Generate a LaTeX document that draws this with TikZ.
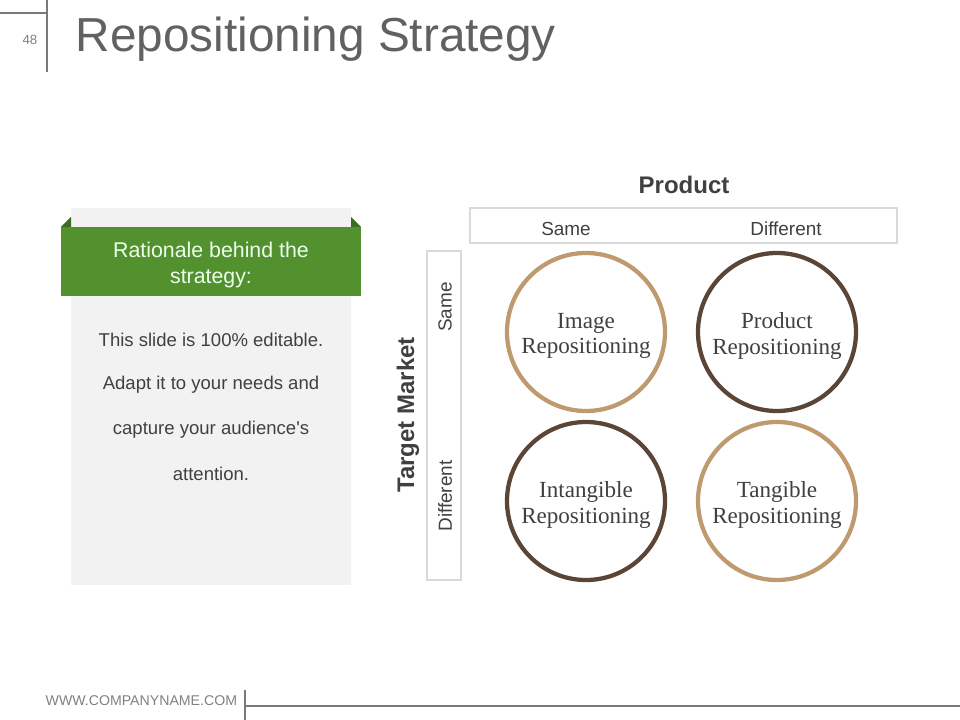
\documentclass[tikz,border=0pt]{standalone}
\usepackage{fontspec}
\setmainfont{Liberation Sans}
\newfontfamily\serifcirc{Liberation Serif}
\begin{document}
\begin{tikzpicture}[x=0.75pt,y=-0.75pt,
  rule/.style={draw=gray!95!black,line width=1.5pt},
  tanring/.style={circle,draw=ringtan,line width=3.2pt,minimum size=158pt*0.75,inner sep=0pt,align=center,font=\serifcirc\fontsize{17.3}{19}\selectfont,text=txtdark},
  brownring/.style={tanring,draw=ringbrown},
  ringtext/.style={align=center,font=\serifcirc\fontsize{17.3}{19}\selectfont,text=txtdark,yshift=-3pt},
  axbox/.style={draw=boxgray,line width=1.3pt},
  axlabel/.style={font=\fontsize{14.2}{16}\selectfont,text=txtdark},
  bodytxt/.style={font=\fontsize{13.9}{16}\selectfont,text=txtdark}]
\definecolor{ringtan}{HTML}{BF9A6E}
\definecolor{ringbrown}{HTML}{5A4537}
\definecolor{txtdark}{HTML}{404040}
\definecolor{boxgray}{HTML}{D9D9D9}
\definecolor{panelgray}{HTML}{F2F2F2}
\definecolor{green1}{HTML}{53912F}
\definecolor{green2}{HTML}{3C6B22}
\useasboundingbox (0,0) rectangle (960,720);
% header
\draw[rule] (0,13) -- (47,13);
\draw[rule] (47,0) -- (47,72);
\node[text=gray,font=\fontsize{10}{12}\selectfont] (pg) at (30,40) {48};
\node[anchor=west,text=black!62,font=\fontsize{35.8}{42}\selectfont] (title) at (71,39) {Repositioning Strategy};
% left panel
\fill[panelgray] (71,208) rectangle (351,585);
\fill[green2] (61,227) -- (71,217) -- (71,227) -- cycle;
\fill[green2] (361,227) -- (351,217) -- (351,227) -- cycle;
\fill[green1] (61,227) rectangle (361,296);
\node[align=center,text=white!92!green,font=\fontsize{16}{18.8}\selectfont] (rat) at (211,265) {Rationale behind the\\strategy:};
\node[bodytxt] (b1) at (211,340) {This slide is 100\% editable.};
\node[bodytxt] (b2) at (211,385) {Adapt it to your needs and};
\node[bodytxt] (b3) at (211,430) {capture your audience\textquotesingle s};
\node[bodytxt] (b4) at (211,474) {attention.};
% axes
\node[font=\bfseries\fontsize{18}{21}\selectfont,text=txtdark] (prod) at (684,185) {Product};
\draw[axbox] (470,208) rectangle (897,243);
\node[axlabel] (ps) at (566,229) {Same};
\node[axlabel] (pd) at (786,229) {Different};
\draw[axbox] (427,251) rectangle (461,580);
\node[axlabel,rotate=90] (ts) at (445,307) {Same};
\node[axlabel,rotate=90] (td) at (445,496) {Different};
\node[font=\bfseries\fontsize{18}{21}\selectfont,text=txtdark,rotate=90] (tm) at (408,415) {Target Market};
% circles
\node[tanring] (c1) at (586,332) {};
\node[brownring] (c2) at (777,332) {};
\node[brownring] (c3) at (586,501) {};
\node[tanring] (c4) at (777,501) {};
\node[ringtext] (t1) at (c1) {Image\\Repositioning};
\node[ringtext] (t2) at (c2) {Product\\Repositioning};
\node[ringtext] (t3) at (c3) {Intangible\\Repositioning};
\node[ringtext] (t4) at (c4) {Tangible\\Repositioning};
% footer
\node[anchor=west,text=gray,font=\fontsize{10.6}{12}\selectfont] (url) at (41,701) {WWW.COMPANYNAME.COM};
\draw[rule,line width=1.2pt] (245,690) -- (245,720);
\draw[rule,line width=2.2pt] (245,706) -- (960,706);
\end{tikzpicture}
\end{document}
